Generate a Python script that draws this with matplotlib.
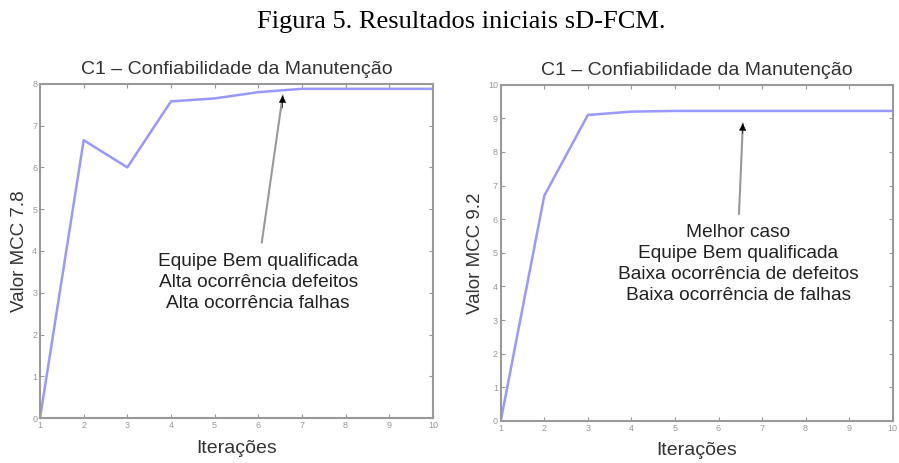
import numpy as np
import matplotlib.pyplot as plt

plt.rcParams['font.family'] = ['Liberation Sans', 'DejaVu Sans']

iteracoes = [1, 2, 3, 4, 5, 6, 7, 8, 9, 10]
mcc_a = [0.0, 6.65, 6.0, 7.58, 7.65, 7.8, 7.88, 7.88, 7.88, 7.88]
mcc_b = [0.0, 6.7, 9.1, 9.2, 9.22, 9.22, 9.22, 9.22, 9.22, 9.22]

texto_a = "Equipe Bem qualificada\nAlta ocorrência defeitos\nAlta ocorrência falhas"
texto_b = "Melhor caso\nEquipe Bem qualificada\nBaixa ocorrência de defeitos\nBaixa ocorrência de falhas"

gray = '#999999'
blue = '#9898ff'

fig = plt.figure(figsize=(8.99, 4.63), dpi=100)
fig.text(0.513, 0.952, "Figura 5. Resultados iniciais sD-FCM.", ha='center', va='center',
         family='Liberation Serif', fontsize=19)

ax1 = fig.add_axes([0.0445, 0.097, 0.437, 0.722])
ax2 = fig.add_axes([0.557, 0.091, 0.436, 0.726])

for ax, y, ymax, ylab in [(ax1, mcc_a, 8, "Valor MCC 7.8"), (ax2, mcc_b, 10, "Valor MCC 9.2")]:
    ax.plot(iteracoes, y, color=blue, lw=1.8)
    ax.set_xlim(1, 10)
    ax.set_ylim(0, ymax)
    ax.set_xticks(iteracoes)
    ax.set_yticks(range(0, ymax + 1))
    ax.tick_params(direction='in', top=True, right=True, length=3, width=0.8,
                   colors=gray, labelsize=6.5, pad=2)
    for s in ax.spines.values():
        s.set_color(gray)
        s.set_linewidth(1.5)
    ax.set_title("C1 – Confiabilidade da Manutenção", fontsize=14, color='#333333', pad=7)
    ax.set_xlabel("Iterações", fontsize=14, color='#333333', labelpad=7)
    ax.set_ylabel(ylab, fontsize=13.5, color='#333333', labelpad=3)


def seta(ax, inicio, fim):
    ax.annotate("", xy=fim, xytext=inicio,
                arrowprops=dict(arrowstyle='-', lw=1.5, color=gray, shrinkA=0, shrinkB=0))
    ax.annotate("", xy=fim, xytext=(fim[0] - 0.01, fim[1] - 0.3),
                arrowprops=dict(arrowstyle='-|>', lw=0.5, mutation_scale=11, color='black',
                                shrinkA=0, shrinkB=0))


seta(ax1, (6.08, 4.2), (6.56, 7.72))
ax1.text(6.0, 3.95, texto_a, ha='center', va='top', fontsize=13.8, color='#222222', linespacing=1.3)

seta(ax2, (6.47, 6.15), (6.56, 8.85))
ax2.text(6.45, 5.85, texto_b, ha='center', va='top', fontsize=13.8, color='#222222', linespacing=1.3)

fig.savefig("out.png", dpi=100)
